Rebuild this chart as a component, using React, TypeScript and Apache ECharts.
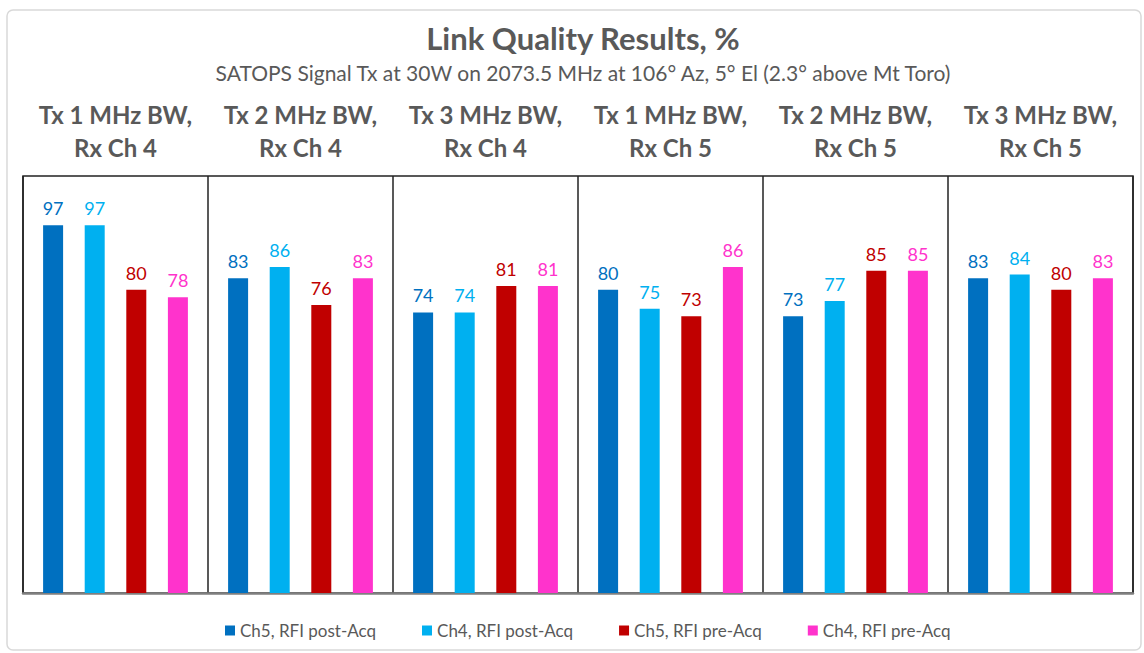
import React, { useEffect, useRef } from "react";
import * as echarts from "echarts";

const categories = [
  "Tx 1 MHz BW,\nRx Ch 4",
  "Tx 2 MHz BW,\nRx Ch 4",
  "Tx 3 MHz BW,\nRx Ch 4",
  "Tx 1 MHz BW,\nRx Ch 5",
  "Tx 2 MHz BW,\nRx Ch 5",
  "Tx 3 MHz BW,\nRx Ch 5",
];

const seriesNames = ["Ch5, RFI post-Acq", "Ch4, RFI post-Acq", "Ch5, RFI pre-Acq", "Ch4, RFI pre-Acq"];
const seriesColors = ["#0070C0", "#00B0F0", "#C00000", "#FF33CC"];

const ch5Post = [97, 83, 74, 80, 73, 83];
const ch4Post = [97, 86, 74, 75, 77, 84];
const ch5Pre = [80, 76, 81, 73, 85, 80];
const ch4Pre = [78, 83, 81, 86, 85, 83];

const seriesValues = [ch5Post, ch4Post, ch5Pre, ch4Pre];

const FONT = "Lato, 'Noto Sans', sans-serif";

export default function App() {
  const ref = useRef<HTMLDivElement>(null);

  useEffect(() => {
    document.body.style.margin = "0";
    if (!ref.current) return;
    const chart = echarts.init(ref.current, null, { renderer: "svg" });
    chart.setOption({
      animation: false,
      backgroundColor: "#ffffff",
      textStyle: { fontFamily: FONT },
      title: {
        text: "Link Quality Results, %",
        subtext: "SATOPS Signal Tx at 30W on 2073.5 MHz at 106° Az, 5° El (2.3° above Mt Toro)",
        left: 578,
        textAlign: "center",
        top: 17,
        itemGap: 9,
        textStyle: { fontFamily: FONT, fontSize: 31, fontWeight: "bold", color: "#595959" },
        subtextStyle: { fontFamily: FONT, fontSize: 21, color: "#595959" },
      },
      graphic: [
        {
          type: "rect",
          shape: { x: 7, y: 10, width: 1134, height: 640, r: 6 },
          style: { fill: "none", stroke: "#d9d9d9", lineWidth: 1.5 },
          silent: true,
          z: -1,
        },
      ],
      legend: {
        bottom: 9,
        left: 220,
        itemWidth: 10,
        itemHeight: 10,
        itemGap: 46,
        icon: "rect",
        textStyle: { fontFamily: FONT, fontSize: 17, color: "#595959" },
        data: seriesNames,
      },
      grid: {
        left: 23,
        right: 11,
        top: 176,
        bottom: 60,
        show: true,
        borderColor: "#222",
        borderWidth: 1.5,
        backgroundColor: "transparent",
      },
      xAxis: [
        {
          type: "category",
          data: categories,
          position: "top",
          axisLine: { show: false },
          axisTick: { show: false },
          splitLine: { show: false },
          axisLabel: {
            interval: 0,
            margin: 12,
            fontFamily: FONT,
            fontSize: 24,
            fontWeight: "bold",
            color: "#595959",
            lineHeight: 33,
          },
        },
        {
          type: "category",
          data: categories,
          position: "bottom",
          axisLine: { show: true, lineStyle: { color: "#7f7f7f", width: 2.5 } },
          axisTick: { show: false },
          axisLabel: { show: false },
          splitLine: { show: true, interval: 0, lineStyle: { color: "#222", width: 1.5 } },
        },
      ],
      yAxis: {
        type: "value",
        min: 0,
        max: 110,
        show: false,
        splitLine: { show: false },
      },
      series: seriesNames.map((name, i) => ({
        name,
        type: "bar",
        xAxisIndex: 0,
        data: seriesValues[i],
        barWidth: 20,
        barGap: "108%",
        itemStyle: { color: seriesColors[i] },
        label: {
          show: true,
          position: "top",
          distance: 8,
          fontFamily: FONT,
          fontSize: 18,
          color: seriesColors[i],
        },
      })),
    });
    return () => chart.dispose();
  }, []);

  return <div ref={ref} style={{ width: 1144, height: 653 }} />;
}
